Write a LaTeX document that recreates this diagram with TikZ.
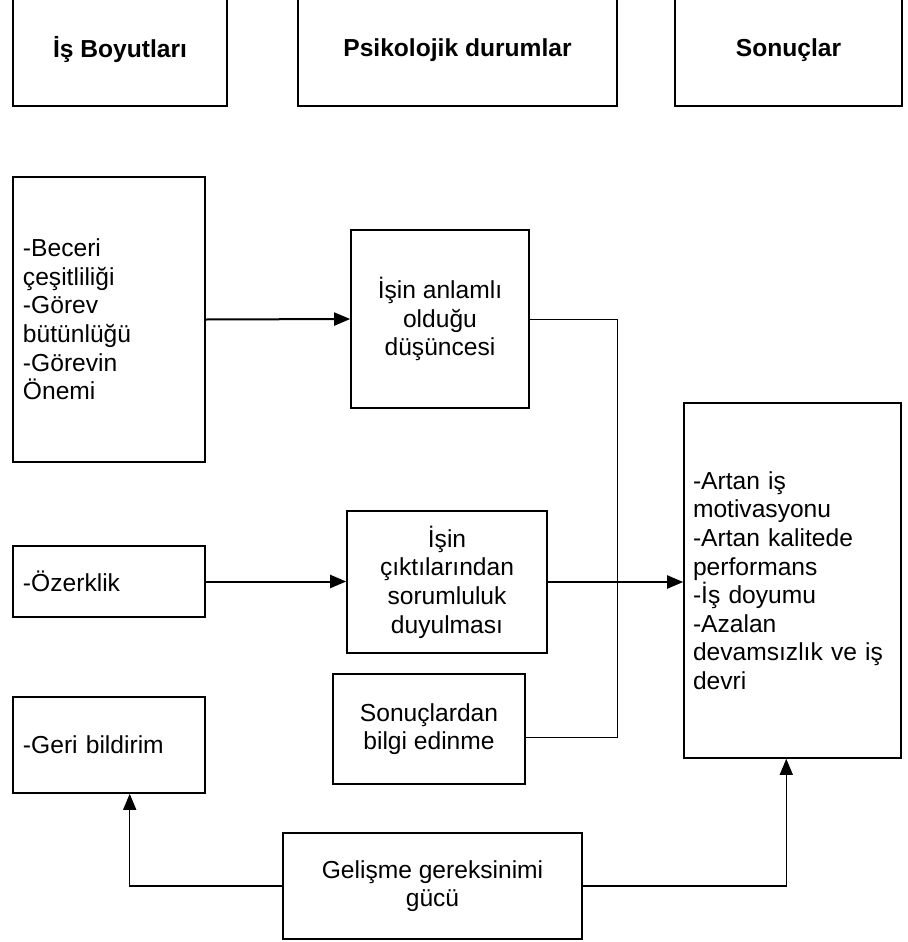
\documentclass[tikz,border=0pt]{standalone}
\usepackage{fontspec}
\setmainfont{Liberation Sans}
\usepackage{tikz}
\usetikzlibrary{arrows.meta,positioning,calc}

\tikzset{
  box/.style={draw,line width=0.8pt,inner sep=5pt,align=center,
    font=\fontsize{12.3}{14.3}\selectfont},
  headbox/.style={box,font=\fontsize{12.3}{14.3}\selectfont\bfseries,minimum height=56pt},
  listbox/.style={box,align=left,text width=86pt},
  mainarrow/.style={-{Triangle[length=8pt,width=6.5pt]},line width=1pt},
  loopline/.style={line width=0.5pt},
}

\begin{document}
\begin{tikzpicture}[x=0.5pt,y=-0.5pt]
\useasboundingbox (0,0) rectangle (907,942);

% basliklar
\node[headbox,minimum width=107pt] (dims) at (120,50) {İş Boyutları};
\node[headbox,minimum width=159.5pt] (states) at (457.5,50) {Psikolojik durumlar};
\node[headbox,minimum width=113.5pt] (outcomes) at (788.5,50) {Sonuçlar};

% is boyutlari
\node[listbox,minimum height=142.5pt] (beceri) at (109,319.5)
  {-Beceri\\çeşitliliği\\-Görev\\bütünlüğü\\-Görevin\\Önemi};
\node[listbox,minimum height=35.5pt] (ozerklik) at (109,581.5) {-Özerklik};
\node[listbox,minimum height=48pt] (geri) at (109,745) {-Geri bildirim};

% psikolojik durumlar
\node[box,minimum width=89pt,minimum height=89pt] (anlamli) at (440,319)
  {İşin anlamlı\\olduğu\\düşüncesi};
\node[box,minimum width=100pt,minimum height=71pt] (cikti) at (447,582)
  {İşin\\çıktılarından\\sorumluluk\\duyulması};
\node[box,minimum width=96pt,minimum height=55pt] (sonuc) at (429,729)
  {Sonuçlardan\\bilgi edinme};
\node[box,minimum width=149.5pt,minimum height=53pt] (gelisme) at (432.5,886)
  {Gelişme gereksinimi\\gücü};

% sonuclar
\node[listbox,inner xsep=4.5pt,text width=99.5pt,minimum height=177.5pt] (artan) at (792.5,580.5)
  {-Artan iş\\motivasyonu\\-Artan kalitede\\performans\\-İş doyumu\\-Azalan\\devamsızlık ve iş\\devri};

% baglantilar
\draw[mainarrow] (beceri.east) -- (anlamli.west);
\draw[mainarrow] (ozerklik.east) -- (ozerklik.east -| cikti.west);
\draw[mainarrow] (cikti.east) -- (cikti.east -| artan.west);
\draw[loopline] (anlamli.east) -- ++(88,0) |- (sonuc.-5.4);
\draw[mainarrow,line width=0.7pt] (gelisme.west) -| (geri.-67);
\draw[mainarrow,line width=0.7pt] (gelisme.east) -| (artan.-92.7);
\end{tikzpicture}
\end{document}
